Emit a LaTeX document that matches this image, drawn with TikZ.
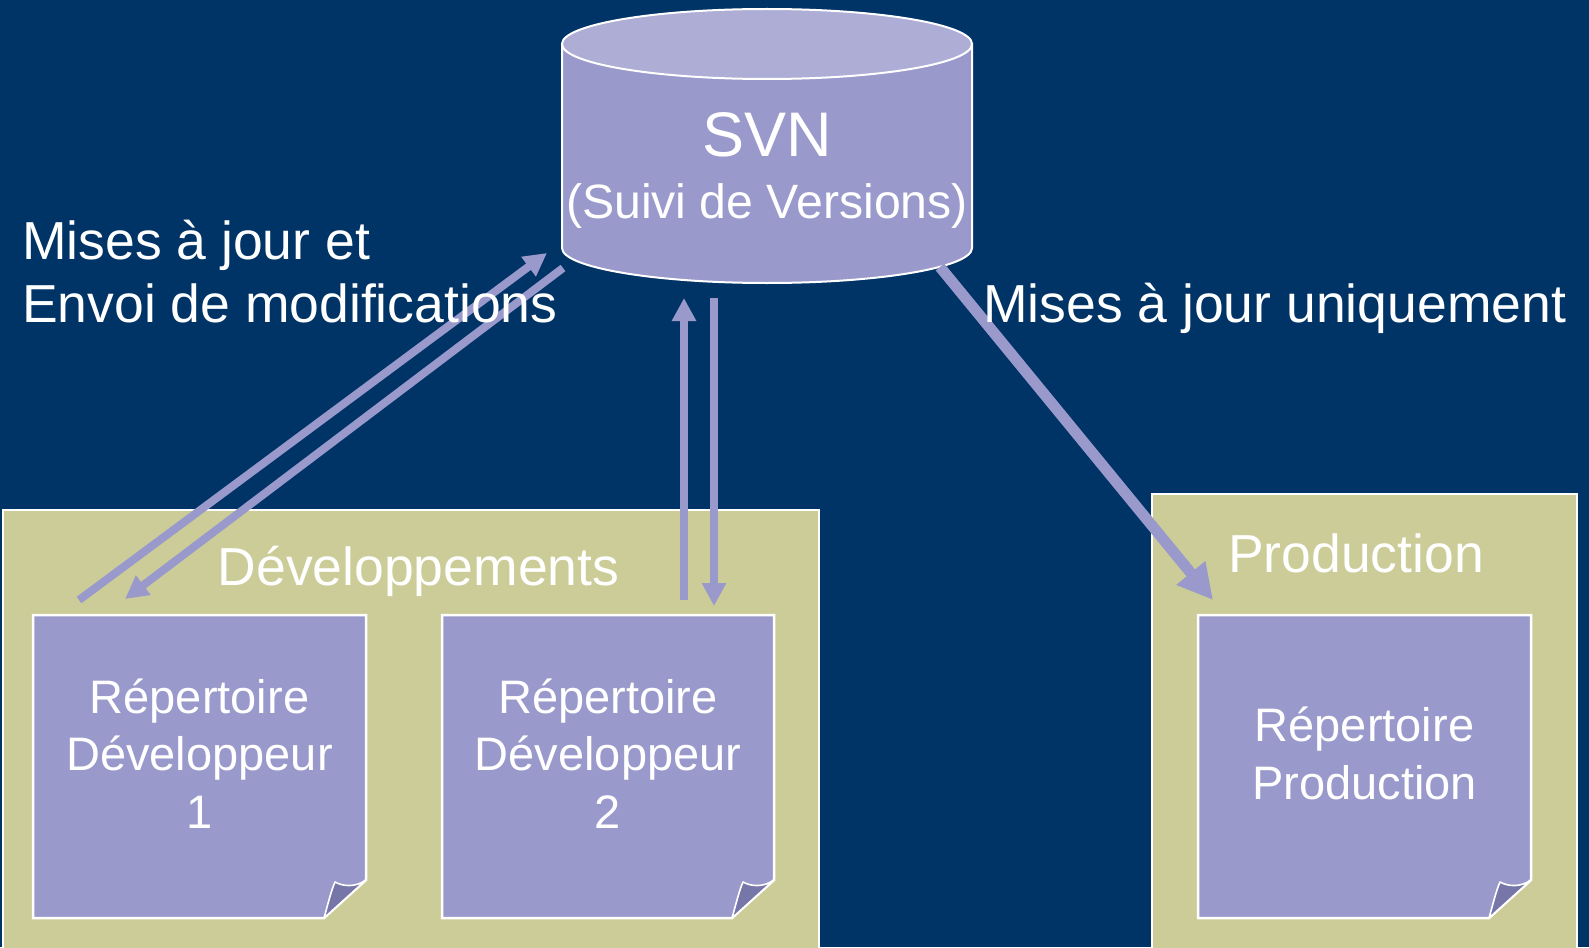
\documentclass[tikz,border=0pt]{standalone}
\usepackage{fontspec}
\setmainfont{Liberation Sans}
\usetikzlibrary{arrows.meta}
\definecolor{bgblue}{HTML}{003366}
\definecolor{lav}{HTML}{9999CC}
\definecolor{lavtop}{HTML}{ADADD6}
\definecolor{tanbox}{HTML}{CCCC99}
\definecolor{folddark}{HTML}{7676A8}
\newcommand{\drawnote}[4]{%
  \filldraw[notebg] (#1,#2) -- (#3,#2) -- (#3,#4-38) -- (#3-42,#4) -- (#1,#4) -- cycle;
  \filldraw[notefold] (#3,#4-38) -- (#3-42,#4) .. controls (#3-38,#4-14) and (#3-35,#4-27) .. (#3-31,#4-36) .. controls (#3-22,#4-31) and (#3-10,#4-31) .. (#3,#4-38) -- cycle;
}
\begin{document}
\begin{tikzpicture}[x=1pt,y=-1pt,
  lbl/.style={text=white, inner sep=0pt, font=\fontsize{53.5}{63}\selectfont},
  replbl/.style={text=white, inner sep=0pt, align=center, font=\fontsize{47}{57.5}\selectfont},
  container/.style={fill=tanbox, draw=white, line width=2pt},
  notebg/.style={fill=lav, draw=white, line width=2.5pt, line join=miter},
  notefold/.style={fill=folddark, draw=white, line width=1.6pt, line join=round},
  flow/.style={draw=lav, line width=8pt, -{Triangle[length=23pt,width=23pt]}},
  flowbig/.style={draw=lav, line width=11pt, -{Triangle[length=35pt,width=35pt]}},
]
\useasboundingbox (0,0) rectangle (1589,947);
\fill[bgblue] (0,0) rectangle (1589,947);
\clip (0,0) rectangle (1589,947);

% containers
\filldraw[container] (3,510) rectangle (819,970);
\filldraw[container] (1152,494) rectangle (1577,970);

% notes
\drawnote{33}{615}{366}{918}
\drawnote{442}{615}{774}{918}
\drawnote{1198}{615}{1531}{918}

% cylinder
\filldraw[fill=lav, draw=white, line width=2pt]
  (562,44) -- (562,248) .. controls (562,267.3) and (653.8,283) .. (767,283)
  .. controls (880.2,283) and (972,267.3) .. (972,248) -- (972,44) -- cycle;
\filldraw[fill=lavtop, draw=white, line width=2pt] (767,44) ellipse [x radius=205, y radius=35];

% connector end points
\coordinate (a1s) at (79,600);  \coordinate (a1e) at (547,253);
\coordinate (a2s) at (563,268); \coordinate (a2e) at (125,599);
\coordinate (a3s) at (684,600); \coordinate (a3e) at (684,298);
\coordinate (a4s) at (714,298); \coordinate (a4e) at (714,606);
\coordinate (a5s) at (940,267); \coordinate (a5e) at (1213,600);

\draw[flow] (a1s) -- (a1e);
\draw[flow] (a2s) -- (a2e);
\draw[flow] (a3s) -- (a3e);
\draw[flow] (a4s) -- (a4e);
\draw[flowbig] (a5s) -- (a5e);

% texts
\node[lbl, font=\fontsize{63}{70}\selectfont, anchor=base] (svn) at (767,156) {SVN};
\node[lbl, font=\fontsize{48.2}{56}\selectfont, anchor=base] (svnsub) at (767,218) {(Suivi de Versions)};
\node[lbl, align=left, anchor=base west] (lblleft) at (22,322) {Mises à jour et\\Envoi de modifications};
\node[lbl, anchor=base west] (lblright) at (983,322) {Mises à jour uniquement};
\node[lbl, anchor=base] (devtitle) at (418.5,585) {Développements};
\node[lbl, anchor=base] (prodtitle) at (1356,572) {Production};
\node[replbl, anchor=base] (rd1) at (199.5,828) {Répertoire\\Développeur\\1};
\node[replbl, anchor=base] (rd2) at (608,828) {Répertoire\\Développeur\\2};
\node[replbl, anchor=base] (rp) at (1364.5,799) {Répertoire\\Production};
\end{tikzpicture}
\end{document}
